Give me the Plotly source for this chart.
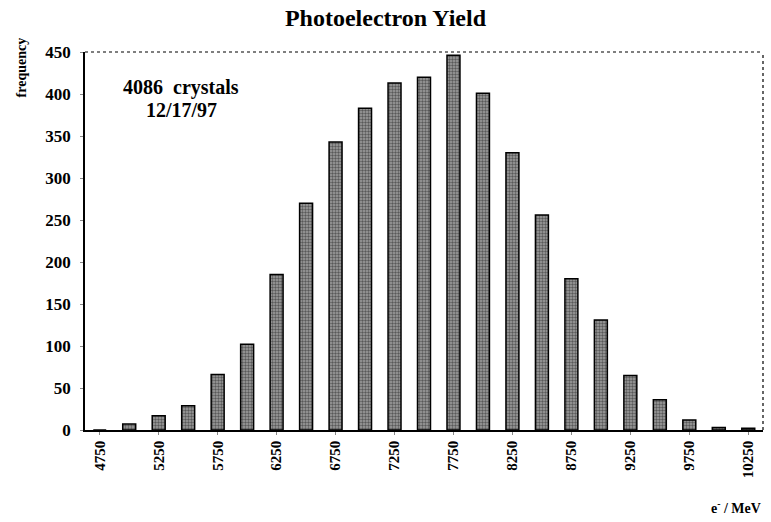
import plotly.graph_objects as go

energies = [4750, 5000, 5250, 5500, 5750, 6000, 6250, 6500, 6750, 7000, 7250, 7500,
            7750, 8000, 8250, 8500, 8750, 9000, 9250, 9500, 9750, 10000, 10250]
counts = [0, 7, 17, 29, 66, 102, 185, 270, 343, 383, 413, 420,
          446, 401, 330, 256, 180, 131, 65, 36, 12, 3, 2]
x_ticks = [4750, 5250, 5750, 6250, 6750, 7250, 7750, 8250, 8750, 9250, 9750, 10250]
y_ticks = [0, 50, 100, 150, 200, 250, 300, 350, 400, 450]

FONT = "Liberation Serif, Times New Roman, serif"

fig = go.Figure(go.Bar(
    x=energies, y=counts, width=110,
    marker=dict(color="#6e6e6e", line=dict(color="black", width=1.5),
                pattern=dict(shape=".", fgcolor="#111", bgcolor="#a0a0a0", size=3, solidity=0.5)),
))

fig.update_layout(
    width=771, height=522,
    margin=dict(l=85, r=8, t=52, b=92, autoexpand=False),
    paper_bgcolor="white", plot_bgcolor="white",
    showlegend=False,
    title=dict(text="<b>Photoelectron Yield</b>", x=0.5, xref="container", xanchor="center",
               y=0.967, yanchor="middle",
               font=dict(family=FONT, size=24, color="black")),
    font=dict(family=FONT, color="black"),
    xaxis=dict(range=[4625, 10375], tickmode="array", tickvals=x_ticks,
               ticktext=[f"<b>{v}</b>" for v in x_ticks], tickangle=-90,
               tickfont=dict(family=FONT, size=15, color="black"),
               showline=True, linecolor="black", linewidth=1.5, showgrid=False,
               ticks="outside", ticklen=3, tickcolor="#888", zeroline=False,
               automargin=False),
    yaxis=dict(range=[0, 450], tickmode="array", tickvals=y_ticks,
               ticktext=[f"<b>{v}</b>" for v in y_ticks],
               tickfont=dict(family=FONT, size=17, color="black"),
               showline=True, linecolor="black", linewidth=1.5, showgrid=False,
               ticks="outside", ticklen=3, tickcolor="#888", zeroline=False,
               ticklabelstandoff=6, automargin=False),
    shapes=[
        dict(type="line", xref="paper", yref="paper", x0=0, x1=1, y0=1, y1=1,
             line=dict(color="black", width=1.2, dash="dot")),
        dict(type="line", xref="paper", yref="paper", x0=1, x1=1, y0=0, y1=1,
             line=dict(color="black", width=1.2, dash="dot")),
    ],
    annotations=[
        dict(text="<b>frequency</b>", xref="paper", yref="paper", x=-0.094, y=0.96,
             xanchor="center", yanchor="middle", textangle=-90, showarrow=False,
             font=dict(family=FONT, size=14, color="black")),
        dict(text="<b>4086  crystals</b>", xref="paper", yref="paper",
             x=0.142, y=0.905, xanchor="center", yanchor="middle", showarrow=False,
             font=dict(family=FONT, size=20, color="black")),
        dict(text="<b>12/17/97</b>", xref="paper", yref="paper",
             x=0.142, y=0.847, xanchor="center", yanchor="middle", showarrow=False,
             font=dict(family=FONT, size=20, color="black")),
        dict(text="<b>e<sup>-</sup> / MeV</b>", xref="paper", yref="paper",
             x=1.0, y=-0.204, xanchor="right", yanchor="middle", showarrow=False,
             font=dict(family=FONT, size=14, color="black")),
    ],
)

fig.write_html("out.html", config={"displayModeBar": False},
               post_script="document.body.style.margin='0';")
